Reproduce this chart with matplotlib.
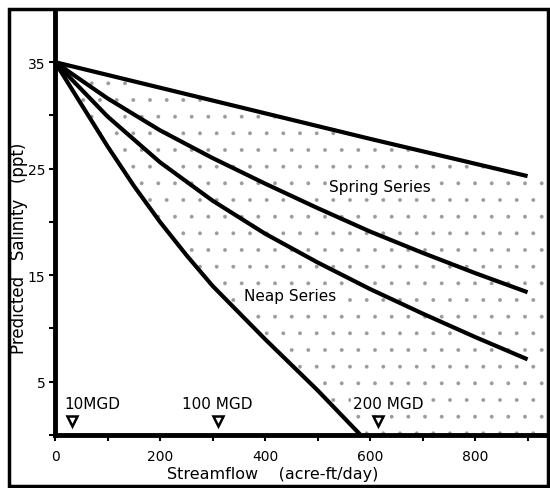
import matplotlib
matplotlib.use("Agg")
import matplotlib.pyplot as plt
from matplotlib.patches import Rectangle
from matplotlib.ticker import MultipleLocator
import numpy as np

plt.rcParams['font.family'] = ['DejaVu Sans']
plt.rcParams['hatch.linewidth'] = 0.3

# streamflow (acre-ft/day) vs predicted salinity (ppt)
spring_hi_x = [0, 300, 600, 900]
spring_hi_y = [35, 31.4, 27.8, 24.3]
spring_lo_x = [0, 100, 200, 300, 400, 500, 600, 700, 800, 900]
spring_lo_y = [35, 31.6, 28.6, 26.0, 23.6, 21.3, 19.1, 17.1, 15.2, 13.4]
neap_hi_x = [0, 100, 200, 300, 400, 500, 600, 700, 800, 900]
neap_hi_y = [35, 29.9, 25.6, 22.0, 18.9, 16.2, 13.7, 11.4, 9.2, 7.1]
neap_lo_x = [0, 50, 100, 150, 200, 250, 300, 400, 500, 582]
neap_lo_y = [35, 31.05, 27.1, 23.4, 20.0, 16.9, 14.0, 9.0, 4.2, 0.0]

# withdrawal markers (10, 100, 200 MGD in acre-ft/day)
mgd_labels = ['10MGD', '100 MGD', '200 MGD']
mgd_flow = [32, 310, 615]
mgd_label_x = [72, 309, 634]

fig = plt.figure(figsize=(5.5, 4.89), dpi=100)
ax = fig.add_axes([55 / 550, 1 - 436 / 489, 492 / 550, 424 / 489])
ax.set_xlim(0, 937)
ax.set_ylim(0, 39.8)

# stippled envelope between the outer curves
xs = np.linspace(0, 937, 400)
top = np.interp(xs, spring_hi_x, spring_hi_y)
bot = np.interp(xs, neap_lo_x, neap_lo_y, right=0.0)
ax.fill_between(xs, bot, top, facecolor='none', edgecolor='#9a9a9a',
                hatch='.', linewidth=0, zorder=1)

for x, y in [(spring_hi_x, spring_hi_y), (spring_lo_x, spring_lo_y),
             (neap_hi_x, neap_hi_y), (neap_lo_x, neap_lo_y)]:
    ax.plot(x, y, color='black', lw=3.0, solid_capstyle='butt',
            solid_joinstyle='round', zorder=3)

ax.plot(mgd_flow, [1.3] * len(mgd_flow), linestyle='none', marker='v',
        markersize=7, markerfacecolor='white', markeredgecolor='black',
        markeredgewidth=1.8, zorder=4)

box = dict(facecolor='white', edgecolor='none', pad=1)
for lab, lx in zip(mgd_labels, mgd_label_x):
    ax.text(lx, 3.0, lab, ha='center', va='center', fontsize=11,
            bbox=box, zorder=5)

ax.text(619, 23.3, 'Spring Series', ha='center', va='center', fontsize=11,
        bbox=box, zorder=5)
ax.text(448, 13.1, 'Neap Series', ha='center', va='center', fontsize=11,
        bbox=box, zorder=5)

ax.xaxis.set_major_locator(MultipleLocator(200))
ax.xaxis.set_minor_locator(MultipleLocator(100))
ax.set_yticks([5, 15, 25, 35])
ax.yaxis.set_minor_locator(MultipleLocator(5))
ax.tick_params(which='both', direction='out', length=4, width=1.5,
               labelsize=10)
ax.tick_params(axis='x', pad=6)
ax.tick_params(axis='y', pad=3)

for side in ['left', 'bottom']:
    ax.spines[side].set_linewidth(3.5)
for side in ['top', 'right']:
    ax.spines[side].set_visible(False)

fig.text(273 / 550, 1 - 475 / 489, 'Streamflow    (acre-ft/day)',
         ha='center', va='center', fontsize=11.5)
fig.text(19 / 550, 1 - 248 / 489, 'Predicted   Salinity   (ppt)',
         ha='center', va='center', rotation=90, fontsize=12)

# outer border of the figure
fig.patches.append(Rectangle((9 / 550, 1 - 487 / 489), 539 / 550, 477 / 489,
                             transform=fig.transFigure, fill=False,
                             edgecolor='black', linewidth=2.5))

fig.savefig('out.png', dpi=100)
